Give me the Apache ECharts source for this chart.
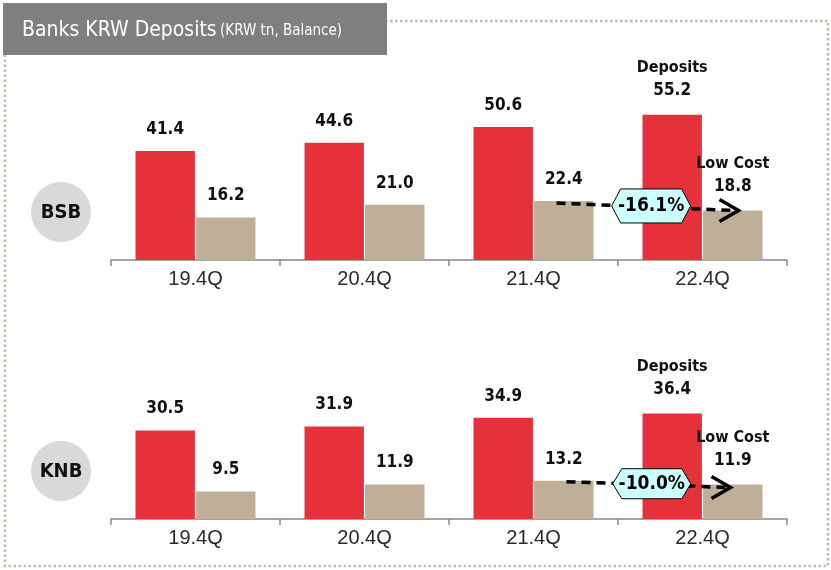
<!DOCTYPE html>
<html>
<head>
<meta charset="utf-8">
<script src="https://cdn.jsdelivr.net/npm/echarts@6/dist/echarts.min.js"></script>
<style>
  html, body { margin: 0; padding: 0; background: #fff; }
  #chart { width: 831px; height: 570px; }
</style>
</head>
<body>
<div id="chart"></div>
<script>
// categories and values (KRW tn)
var quarters = ['19.4Q', '20.4Q', '21.4Q', '22.4Q'];
var bsbDeposits = [41.4, 44.6, 50.6, 55.2];
var bsbLowCost = [16.2, 21.0, 22.4, 18.8];
var knbDeposits = [30.5, 31.9, 34.9, 36.4];
var knbLowCost = [9.5, 11.9, 13.2, 11.9];
var bsbChange = '-16.1%';
var knbChange = '-10.0%';

var RED = '#e5323a';
var TAN = '#bfae98';
var NARROW = "'Liberation Sans Narrow', 'DejaVu Sans Condensed', 'Roboto Condensed', sans-serif";

var myChart = echarts.init(document.getElementById('chart'));

function barLabel(topWord) {
	return {
		show: true,
		position: 'top',
		distance: 13,
		color: '#111',
		fontFamily: NARROW,
		fontWeight: 'bold',
		fontSize: 17,
		formatter: function (p) {
			var v = p.value.toFixed(1);
			if (p.dataIndex === quarters.length - 1) {
				return '{h|' + topWord + '}\n{v|' + v + '}';
			}
			return v;
		},
		rich: {
			h: { fontFamily: NARROW, fontWeight: 'bold', fontSize: 16, color: '#111', lineHeight: 23 },
			v: { fontFamily: NARROW, fontWeight: 'bold', fontSize: 17, color: '#111', lineHeight: 22 }
		}
	};
}

function xAx(idx) {
	return {
		type: 'category',
		gridIndex: idx,
		data: quarters,
		axisLine: { lineStyle: { color: '#888', width: 1.5 } },
		axisTick: { show: true, length: 6, lineStyle: { color: '#888', width: 1.5 } },
		axisLabel: { color: '#2a2a2a', fontSize: 20, margin: 9, fontFamily: "'Liberation Sans', Arial, sans-serif" }
	};
}

function yAx(idx, max) {
	return {
		type: 'value', gridIndex: idx, min: 0, max: max,
		show: false, splitLine: { show: false }
	};
}

var option = {
	animation: false,
	grid: [
		{ left: 111, right: 44, top: 89, bottom: 310 },
		{ left: 111, right: 44, top: 374, bottom: 51 }
	],
	xAxis: [xAx(0), xAx(1)],
	yAxis: [yAx(0, 65), yAx(1, 50)],
	series: [
		{ name: 'Deposits', type: 'bar', xAxisIndex: 0, yAxisIndex: 0, data: bsbDeposits,
		  itemStyle: { color: RED }, barGap: '2%', barCategoryGap: '29%', label: barLabel('Deposits') },
		{ name: 'Low Cost', type: 'bar', xAxisIndex: 0, yAxisIndex: 0, data: bsbLowCost,
		  itemStyle: { color: TAN }, barGap: '2%', barCategoryGap: '29%', label: barLabel('Low Cost') },
		{ name: 'Deposits', type: 'bar', xAxisIndex: 1, yAxisIndex: 1, data: knbDeposits,
		  itemStyle: { color: RED }, barGap: '2%', barCategoryGap: '29%', label: barLabel('Deposits') },
		{ name: 'Low Cost', type: 'bar', xAxisIndex: 1, yAxisIndex: 1, data: knbLowCost,
		  itemStyle: { color: TAN }, barGap: '2%', barCategoryGap: '29%', label: barLabel('Low Cost') }
	]
};
myChart.setOption(option);

// annotations: frame, title, bank badges, change arrows
function arrow(gridIdx, vals, text, startOff, endOff, boxW, boxH) {
	var a = myChart.convertToPixel({ xAxisIndex: gridIdx, yAxisIndex: gridIdx }, [2, vals[2]]);
	var b = myChart.convertToPixel({ xAxisIndex: gridIdx, yAxisIndex: gridIdx }, [3, vals[3]]);
	var x1 = a[0] + startOff[0], y1 = a[1] + startOff[1];
	var x2 = b[0] + endOff[0], y2 = b[1] + endOff[1];
	var cx = x1 + (x2 - x1) * 0.52, cy = y1 + (y2 - y1) * 0.52 - 1;
	var hw = boxW / 2, hh = boxH / 2;
	return [
		{ type: 'line', z: 10, shape: { x1: x1, y1: y1, x2: x2 - 3, y2: y2 },
		  style: { stroke: '#000', lineWidth: 3.5, lineDash: [9, 6] } },
		{ type: 'polyline', z: 10, shape: { points: [[x2 - 19, y2 - 11], [x2, y2], [x2 - 19, y2 + 11]] },
		  style: { stroke: '#000', lineWidth: 3.5, fill: null } },
		{ type: 'polygon', z: 11, shape: { points: [
			[cx - hw, cy], [cx - hw + 9, cy - hh], [cx + hw - 9, cy - hh],
			[cx + hw, cy], [cx + hw - 9, cy + hh], [cx - hw + 9, cy + hh]] },
		  style: { fill: '#ccffff', stroke: '#000', lineWidth: 1 } },
		{ type: 'text', z: 12, x: cx, y: cy,
		  style: { text: text, fill: '#000', font: 'bold 19px ' + NARROW, align: 'center', verticalAlign: 'middle' } }
	];
}

function badge(gridIdx, label) {
	var p = myChart.convertToPixel({ xAxisIndex: gridIdx, yAxisIndex: gridIdx }, [0, 0]);
	var cy = p[1] - 48;
	return [
		{ type: 'circle', shape: { cx: 61, cy: cy, r: 30 }, style: { fill: '#d9d9d9' } },
		{ type: 'text', x: 61, y: cy + 1,
		  style: { text: label, fill: '#111', font: 'bold 20px ' + NARROW, align: 'center', verticalAlign: 'middle' } }
	];
}

var g = [
	{ type: 'rect', z: 0, shape: { x: 5, y: 21, width: 823, height: 545 },
	  style: { fill: null, stroke: '#c7b7a5', lineWidth: 2.5, lineDash: [2.5, 2.5] } },
	{ type: 'rect', z: 5, shape: { x: 3, y: 3, width: 384, height: 52 }, style: { fill: '#7f7f7f' } },
	{ type: 'text', z: 6, x: 22, y: 31,
	  style: {
		text: '{a|Banks KRW Deposits} {b|(KRW tn, Balance)}',
		verticalAlign: 'middle',
		rich: {
			a: { fill: '#fff', fontFamily: NARROW, fontSize: 21 },
			b: { fill: '#fff', fontFamily: NARROW, fontSize: 15 }
		}
	  } }
];
g = g.concat(badge(0, 'BSB'), badge(1, 'KNB'));
g = g.concat(arrow(0, bsbLowCost, bsbChange, [23, 2], [36, 0], 79, 34));
g = g.concat(arrow(1, knbLowCost, knbChange, [33, 1], [28, 3], 78, 30));

myChart.setOption({ graphic: g });
</script>
</body>
</html>
